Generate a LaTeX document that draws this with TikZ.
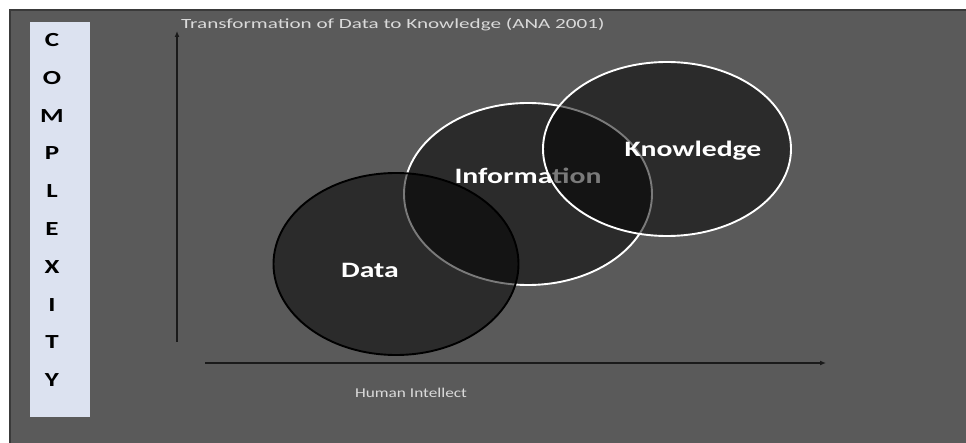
\documentclass[tikz,border=0pt]{standalone}
\usepackage{fontspec}
\setmainfont{Carlito}
\usetikzlibrary{shapes.geometric,arrows.meta}

\definecolor{panel}{HTML}{5A5A5A}
\definecolor{paneledge}{HTML}{3A3A3A}
\definecolor{sidebar}{HTML}{DCE2F0}
\definecolor{axisline}{HTML}{1A1A1A}
\definecolor{captiongray}{HTML}{DADADA}

% horizontally widened text
\newcommand{\widetext}[2][1.35]{\scalebox{#1}[1]{#2}}

\tikzset{
  bubble/.style={ellipse, fill=black, fill opacity=0.52, line width=1.9pt, inner sep=0pt},
  bubbletext/.style={text=white, inner sep=0pt, font=\bfseries\fontsize{22}{24}\selectfont},
  letter/.style={text=black, inner sep=0pt, font=\bfseries\fontsize{20}{22}\selectfont},
  caption/.style={text=captiongray, inner sep=0pt, font=\fontsize{14}{16}\selectfont},
  axis/.style={draw=axisline, line width=1.4pt, -{Latex[length=6pt,width=5pt]}},
}

\begin{document}
\begin{tikzpicture}[x=1pt, y=-1pt]
  \useasboundingbox (0,0) rectangle (966,443);
  \fill[white] (0,0) rectangle (966,443);

  % dark panel
  \fill[panel] (10,10) rectangle (966,443);
  \draw[paneledge, line width=1.2pt] (10,443) -- (10,10) -- (966,10);

  % vertical label column
  \node[fill=sidebar, minimum width=60pt, minimum height=395pt, inner sep=0pt] (side) at (60,219.5) {};
  \foreach \ch [count=\i from 0] in {C,O,M,P,L,E,X,I,T,Y}
    \node[letter] (cx\i) at (52,{40+37.8*\i}) {\widetext{\ch}};

  % title
  \node[caption, anchor=west] (title) at (181,25)
    {\widetext[1.51]{Transformation of Data to Knowledge (ANA 2001)}};

  % axes
  \coordinate (ybot) at (177,342);
  \coordinate (ytop) at (177,31);
  \coordinate (xleft) at (205,363);
  \coordinate (xright) at (826,363);
  \draw[axis] (ybot) -- (ytop);
  \draw[axis] (xleft) -- (xright);

  \node[caption, font=\fontsize{13.5}{15}\selectfont] (xlabel) at (411,393) {\widetext[1.28]{Human Intellect}};

  % overlapping stages
  \node[bubble, draw=white, minimum width=248pt, minimum height=182pt] (info) at (528,194) {};
  \node[bubbletext] (infotext) at (528,176) {\widetext{Information}};

  \node[bubble, draw=black, minimum width=245pt, minimum height=182pt] (data) at (396,264) {};
  \node[bubbletext] (datatext) at (370,270) {\widetext{Data}};

  \node[bubble, draw=white, minimum width=248pt, minimum height=174pt] (know) at (667,149) {};
  \node[bubbletext] (knowtext) at (693,151) {\widetext{Knowledge}};
\end{tikzpicture}
\end{document}
